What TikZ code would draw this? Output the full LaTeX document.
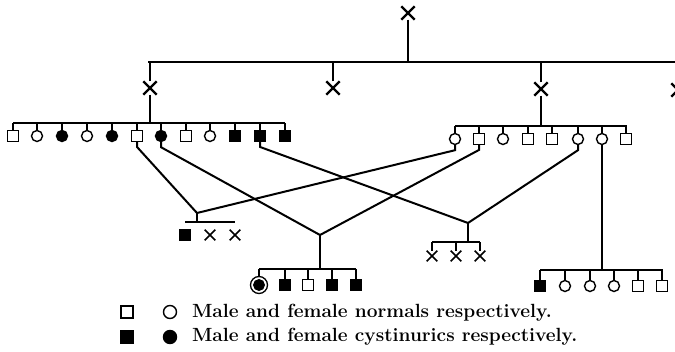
\documentclass[tikz,border=0pt]{standalone}
\usetikzlibrary{shapes.misc}
\begin{document}
\begin{tikzpicture}[x=1pt,y=-1pt, line width=2pt,
  sq/.style={draw, rectangle, minimum size=10.5pt, inner sep=0pt, line width=1.4pt},
  fsq/.style={sq, fill=black},
  ci/.style={draw, circle, minimum size=11pt, inner sep=0pt, line width=1.4pt},
  fci/.style={ci, fill=black},
  xm/.style={draw, cross out, minimum size=11pt, inner sep=0pt, line width=2.4pt},
  xs/.style={draw, cross out, minimum size=9pt, inner sep=0pt, line width=1.6pt},
  prop/.style={draw, circle, minimum size=17pt, inner sep=0pt, line width=1.3pt},
  legtxt/.style={anchor=base west, inner sep=0pt, font=\fontsize{19.1}{23}\selectfont\bfseries}]
\useasboundingbox (0,0) rectangle (675,352);

% generation I
\node[xm] (t) at (408,13) {};
\coordinate (h0L) at (148,62);
\coordinate (h0R) at (675,62);
\draw (h0L) -- (h0R);
\draw (t.south) -- (t.south |- h0L);

% generation II
\node[xm] (g1) at (150,88) {};
\node[xm] (g2) at (333,88) {};
\node[xm] (g3) at (541,89) {};
\node[xm] (g4) at (678,90) {};
\foreach \g in {g1,g2,g3,g4} \draw (\g.north) -- (\g.north |- h0L);

% generation III, left sibship
\coordinate (LA1) at (13,123);
\coordinate (LA2) at (285,123);
\draw (LA1) -- (LA2);
\draw (g1.south) -- (g1.south |- LA1);
\node[sq]  (a1)  at (13,136) {};
\node[ci]  (a2)  at (37,136) {};
\node[fci] (a3)  at (62,136) {};
\node[ci]  (a4)  at (87,136) {};
\node[fci] (a5)  at (112,136) {};
\node[sq]  (a6)  at (137,136) {};
\node[fci] (a7)  at (161,136) {};
\node[sq]  (a8)  at (186,136) {};
\node[ci]  (a9)  at (210,136) {};
\node[fsq] (a10) at (235,136) {};
\node[fsq] (a11) at (260,136) {};
\node[fsq] (a12) at (285,136) {};
\foreach \n in {a1,a2,a3,a4,a5,a6,a7,a8,a9,a10,a11,a12}
  \draw[line width=1.5pt] (\n.north) -- (\n.north |- LA1);

% generation III, right sibship
\coordinate (LB1) at (455,126);
\coordinate (LB2) at (627,126);
\draw (LB1) -- (LB2);
\draw (g3.south) -- (g3.south |- LB1);
\node[ci] (b1) at (455,139) {};
\node[sq] (b2) at (479,139) {};
\node[ci] (b3) at (503,139) {};
\node[sq] (b4) at (528,139) {};
\node[sq] (b5) at (552,139) {};
\node[ci] (b6) at (578,139) {};
\node[ci] (b7) at (602,139) {};
\node[sq] (b8) at (626,139) {};
\foreach \n in {b1,b2,b3,b4,b5,b6,b7,b8}
  \draw[line width=1.5pt] (\n.north) -- (\n.north |- LB1);

% matings
\coordinate (jA) at (197,213);
\coordinate (jB) at (320,235);
\coordinate (jC) at (468,223);
\draw (a6.south) -- ++(0,5) -- (jA);
\draw (b1.south) -- ++(0,5) -- (jA);
\draw (a7.south) -- ++(0,5) -- (jB);
\draw (b2.south) -- ++(0,5) -- (jB);
\draw (a11.south) -- ++(0,5) -- (jC);
\draw (b6.south) -- ++(0,5) -- (jC);

% offspring of jA
\coordinate (LC1) at (185,222);
\coordinate (LC2) at (235,222);
\draw (LC1) -- (LC2);
\draw (jA) -- (jA |- LC1);
\node[fsq] (c1) at (185,235) {};
\node[xs]  (c2) at (210,235) {};
\node[xs]  (c3) at (235,235) {};

% offspring of jB
\coordinate (LD1) at (259,269);
\coordinate (LD2) at (356,269);
\draw (LD1) -- (LD2);
\draw (jB) -- (jB |- LD1);
\node[prop] (d1) at (259,285) {};
\node[fci, minimum size=10.5pt] at (d1.center) {};
\node[fsq] (d2) at (285,285) {};
\node[sq]  (d3) at (308,285) {};
\node[fsq] (d4) at (332,285) {};
\node[fsq] (d5) at (356,285) {};
\foreach \n in {d1,d2,d3,d4,d5}
  \draw[line width=1.5pt] (\n.north) -- (\n.north |- LD1);

% offspring of jC
\coordinate (LE1) at (432,242);
\coordinate (LE2) at (480,242);
\draw (LE1) -- (LE2);
\draw (jC) -- (jC |- LE1);
\node[xs] (e1) at (432,256) {};
\node[xs] (e2) at (456,256) {};
\node[xs] (e3) at (480,256) {};
\foreach \n in {e1,e2,e3}
  \draw[line width=1.5pt] (\n.north) -- (\n.north |- LE1);

% offspring of b7
\coordinate (LF1) at (540,270);
\coordinate (LF2) at (663,270);
\draw (LF1) -- (LF2);
\draw (b7.south) -- (b7.south |- LF1);
\node[fsq] (f1) at (540,286) {};
\node[ci]  (f2) at (565,286) {};
\node[ci]  (f3) at (590,286) {};
\node[ci]  (f4) at (614,286) {};
\node[sq]  (f5) at (638,286) {};
\node[sq]  (f6) at (662,286) {};
\foreach \n in {f1,f2,f3,f4,f5,f6}
  \draw[line width=1.5pt] (\n.north) -- (\n.north |- LF1);

% legend
\node[sq, minimum size=12pt]  (k1) at (127,312) {};
\node[ci, minimum size=13pt]  (k2) at (170,312) {};
\node[fsq, minimum size=12pt] (k3) at (127,337) {};
\node[fci, minimum size=13pt] (k4) at (170,337) {};
\node[legtxt] (t1) at (191,318) {Male and female normals respectively.};
\node[legtxt] (t2) at (191,342) {Male and female cystinurics respectively.};
\end{tikzpicture}
\end{document}
